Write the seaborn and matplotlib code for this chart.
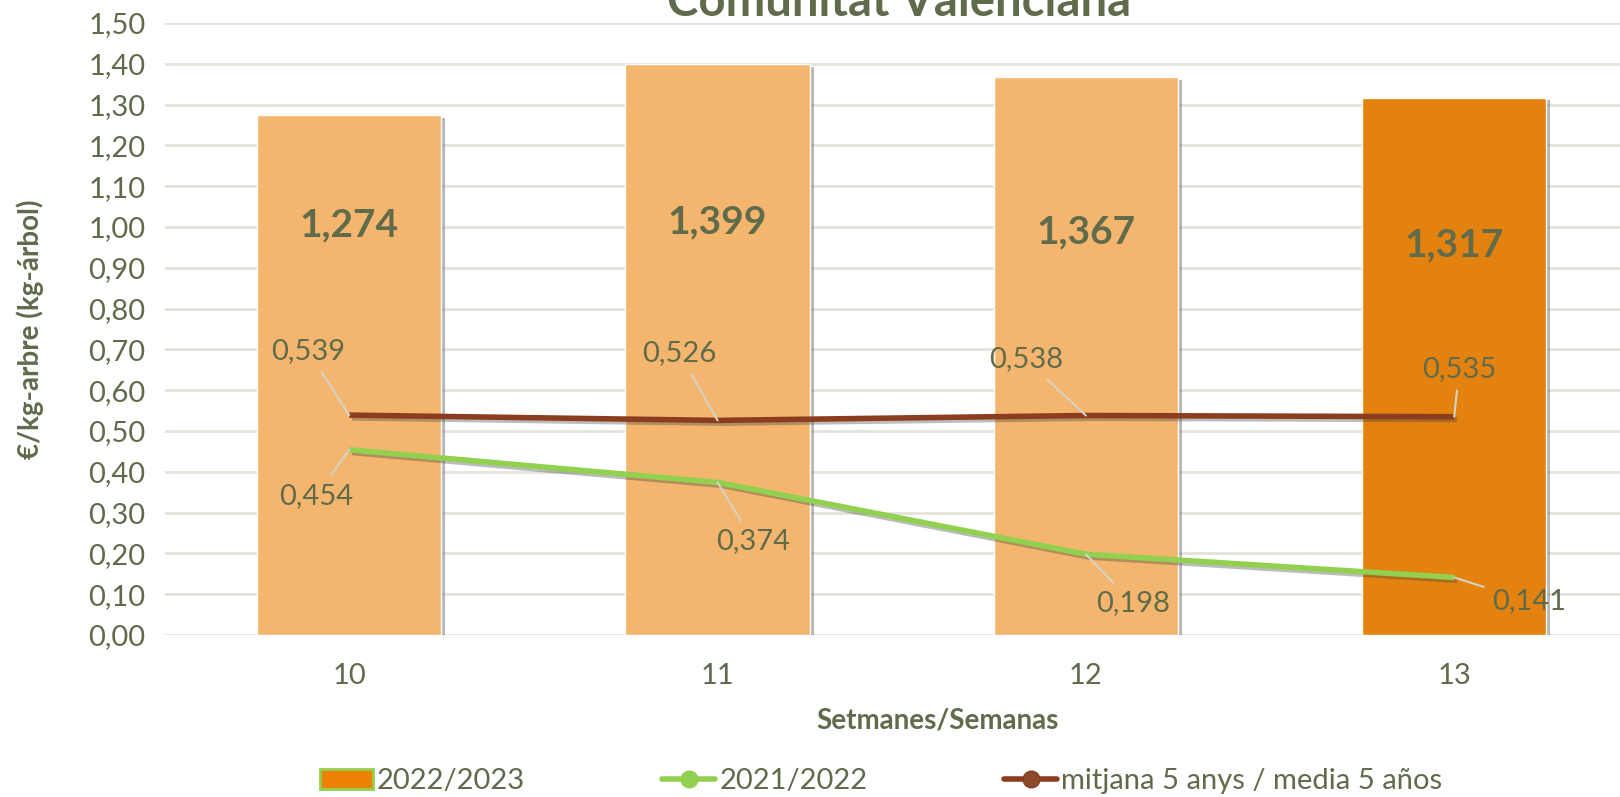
import matplotlib
matplotlib.use("Agg")
import matplotlib.pyplot as plt
import matplotlib.patheffects as pe
from matplotlib.lines import Line2D
from matplotlib.patches import Patch
from matplotlib.ticker import FuncFormatter
import seaborn as sns
import numpy as np

# Data
weeks = ["10", "11", "12", "13"]
season_2223 = [1.274, 1.399, 1.367, 1.317]
season_2122 = [0.454, 0.374, 0.198, 0.141]
mean_5y = [0.539, 0.526, 0.538, 0.535]

# Label placement (pixel offsets from the point)
mean_offsets = [(-41, 64), (-38, 67), (-60, 56), (5, 48)]
green_offsets = [(-33, -46), (36, -59), (47, -49), (75, -24)]
bar_label_y = [1.005, 1.012, 0.988, 0.956]

TEXT = "#5F6B4B"
LIGHT_BAR = "#F4B56E"
DARK_BAR = "#E4820F"
GREEN = "#92D050"
BROWN = "#8B3E1F"
LEADER = "#D3D3C6"

sns.set_theme(style="white")
plt.rcParams["font.family"] = ["Lato", "DejaVu Sans"]


def fmt(v, digits):
    return f"{v:.{digits}f}".replace(".", ",")


fig = plt.figure(figsize=(16.2, 7.97), dpi=100)
ax = fig.add_axes([165 / 1620, 162 / 797, 1 - 165 / 1620, 612 / 797])

bar_colors = [LIGHT_BAR, LIGHT_BAR, LIGHT_BAR, DARK_BAR]
sns.barplot(x=weeks, y=season_2223, hue=weeks, palette=bar_colors, width=0.5,
            saturation=1, legend=False, ax=ax, zorder=2)
for patch in ax.patches:
    patch.set_path_effects([pe.SimplePatchShadow(offset=(3, -2), shadow_rgbFace="#707070", alpha=0.5),
                            pe.Normal()])

xs = np.arange(len(weeks))
line_shadow = [pe.SimpleLineShadow(offset=(2, -2), shadow_color="#404040", alpha=0.35), pe.Normal()]
ax.plot(xs, season_2122, color=GREEN, lw=4, zorder=3, path_effects=line_shadow, solid_capstyle="butt")
ax.plot(xs, mean_5y, color=BROWN, lw=4, zorder=3, path_effects=line_shadow, solid_capstyle="butt")

# bar value labels
for x, v, ly in zip(xs, season_2223, bar_label_y):
    ax.text(x, ly, fmt(v, 3), ha="center", va="center", fontsize=28,
            fontweight="bold", color=TEXT, zorder=5)

# line value labels with leader lines
for vals, offs in ((mean_5y, mean_offsets), (season_2122, green_offsets)):
    for x, v, (dx, dy) in zip(xs, vals, offs):
        ax.annotate(fmt(v, 3), xy=(x, v), xytext=(dx, dy), textcoords="offset pixels",
                    ha="center", va="center", fontsize=21, color=TEXT, zorder=6,
                    arrowprops=dict(arrowstyle="-", color=LEADER, lw=1.5,
                                    shrinkA=4, shrinkB=0))

ax.set_ylim(0, 1.5)
ax.set_xlim(-0.5, 3.45)
ax.set_yticks(np.arange(0, 1.51, 0.1))
ax.yaxis.set_major_formatter(FuncFormatter(lambda v, p: fmt(v, 2)))
ax.grid(axis="y", color="#E3E3DC", lw=2, zorder=0)
ax.set_axisbelow(True)
for s in ax.spines.values():
    s.set_visible(False)
ax.tick_params(axis="y", length=0, pad=14, labelsize=21, labelcolor=TEXT)
ax.tick_params(axis="x", length=0, pad=20, labelsize=21, labelcolor=TEXT)

ax.set_xlabel("Setmanes/Semanas", fontsize=20, fontweight="bold", color=TEXT)
ax.xaxis.set_label_coords(0.531, -0.118)
ax.set_ylabel("€/kg-arbre (kg-árbol)", fontsize=20, fontweight="bold", color=TEXT)
ax.yaxis.set_label_coords(-0.083, 0.5)

# title sits partly above the canvas, as in the source image
fig.text(899 / 1620, 0.997, "Comunitat Valenciana", ha="center", va="center",
         fontsize=34, fontweight="bold", color=TEXT)

handles = [
    Patch(facecolor="#EE8204", edgecolor=GREEN, lw=2),
    Line2D([], [], color=GREEN, lw=4, marker="o", markersize=12),
    Line2D([], [], color=BROWN, lw=4, marker="o", markersize=12, markerfacecolor="#8B4A2B"),
]
labels = ["2022/2023", "2021/2022", "mitjana 5 anys / media 5 años"]
fig.legend(handles, labels, loc="center", bbox_to_anchor=(0.544, 0.02), ncol=3,
           frameon=False, fontsize=21, labelcolor=TEXT, columnspacing=4.7,
           handlelength=1.8, handletextpad=0.15)

fig.savefig("out.png", dpi=100)
